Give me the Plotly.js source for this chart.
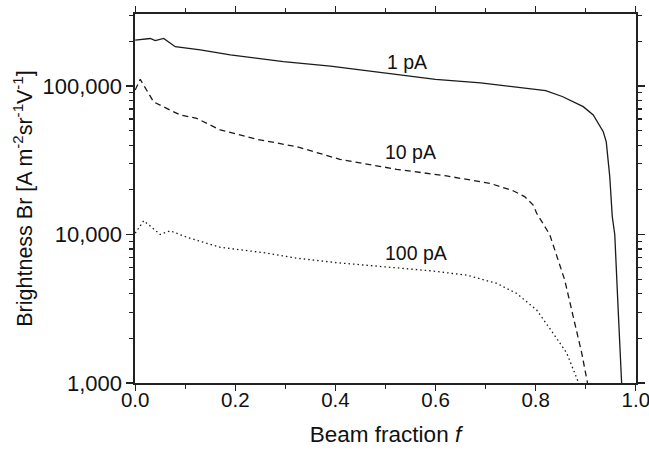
<!DOCTYPE html>
<html>
<head>
<meta charset="utf-8">
<script src="https://cdn.plot.ly/plotly-3.0.1.min.js"></script>
<style>html,body{margin:0;padding:0;background:#fff;}#chart{width:649px;height:453px;}</style>
</head>
<body>
<div id="chart"></div>
<script>
// Beam fraction (x) and brightness (y) for three beam currents
const x1pA = [0, 0.03, 0.04, 0.057, 0.08, 0.13, 0.19, 0.24, 0.296, 0.39, 0.49, 0.6, 0.69, 0.79, 0.82, 0.853, 0.88, 0.895, 0.915, 0.935, 0.941, 0.948, 0.953, 0.958, 0.965, 0.972];
const y1pA = [204000, 209000, 202000, 209000, 184000, 175000, 162000, 154000, 146000, 136000, 123000, 111000, 105000, 96000, 93000, 85000, 77000, 72600, 63800, 49200, 42100, 24500, 13200, 10000, 3000, 950];

const x10pA = [0, 0.01, 0.037, 0.09, 0.123, 0.17, 0.243, 0.323, 0.409, 0.522, 0.622, 0.709, 0.755, 0.778, 0.795, 0.802, 0.828, 0.858, 0.875, 0.892, 0.904];
const y10pA = [94000, 111000, 78000, 63800, 60500, 50600, 43800, 39000, 32100, 27500, 24800, 22100, 19700, 18000, 15800, 13900, 10000, 4940, 2800, 1590, 980];

const x100pA = [0, 0.017, 0.05, 0.07, 0.103, 0.17, 0.256, 0.323, 0.403, 0.496, 0.589, 0.662, 0.722, 0.762, 0.802, 0.835, 0.862, 0.882, 0.886];
const y100pA = [10200, 12400, 10000, 10600, 9580, 8200, 7550, 6920, 6460, 6070, 5700, 5330, 4690, 4010, 3100, 2160, 1590, 1080, 990];

const seriesLabels = ['1 pA', '10 pA', '100 pA'];
const yTickVals = [1000, 10000, 100000];
const yTickText = ['1,000', '10,000', '100,000'];
const yMinorVals = [2000,3000,4000,5000,6000,7000,8000,9000,20000,30000,40000,50000,60000,70000,80000,90000,200000,300000];
const xTickVals = [0, 0.2, 0.4, 0.6, 0.8, 1.0];
const xTickText = ['0.0', '0.2', '0.4', '0.6', '0.8', '1.0'];
const xMinorVals = [0.1, 0.3, 0.5, 0.7, 0.9];

const FONT = 'Liberation Sans, Arial, Helvetica, sans-serif';
const lineCol = '#1a1a1a';

const traces = [
  {x: x1pA, y: y1pA, mode: 'lines', name: seriesLabels[0], line: {color: lineCol, width: 1.3, dash: 'solid'}},
  {x: x10pA, y: y10pA, mode: 'lines', name: seriesLabels[1], line: {color: lineCol, width: 1.3, dash: '6px,4px'}},
  {x: x100pA, y: y100pA, mode: 'lines', name: seriesLabels[2], line: {color: lineCol, width: 1.3, dash: '1.5px,3px'}}
];

const layout = {
  width: 649, height: 453,
  margin: {l: 135, r: 13, t: 14, b: 70},
  paper_bgcolor: '#fff', plot_bgcolor: '#fff',
  showlegend: false,
  font: {family: FONT, size: 22, color: '#111'},
  xaxis: {
    range: [-0.0004, 1.0004], showgrid: false, zeroline: false,
    showline: true, linecolor: '#222', linewidth: 1.6, mirror: 'ticks',
    ticks: 'outside', ticklen: 6, tickwidth: 1.4, tickcolor: '#222',
    tickvals: xTickVals, ticktext: xTickText, ticklabeloverflow: 'allow', ticklabelstandoff: -8,
    minor: {tickvals: xMinorVals, ticks: 'outside', ticklen: 4, tickwidth: 1.2, tickcolor: '#222', showgrid: false},
    tickfont: {family: FONT, size: 20.5},
    title: {text: 'Beam fraction <i>f</i>', font: {family: FONT, size: 22.5}, standoff: 16}
  },
  yaxis: {
    type: 'log', range: [3, 5.485], showgrid: false, zeroline: false,
    showline: true, linecolor: '#222', linewidth: 1.6, mirror: 'ticks',
    ticks: 'outside', ticklen: 7, tickwidth: 1.4, tickcolor: '#222',
    tickvals: yTickVals, ticktext: yTickText, ticklabeloverflow: 'allow',
    minor: {tickvals: yMinorVals, ticks: 'outside', ticklen: 4, tickwidth: 1.2, tickcolor: '#222', showgrid: false},
    tickfont: {family: FONT, size: 22},
    title: {text: 'Brightness Br [A m<sup>-2</sup>sr<sup>-1</sup>V<sup>-1</sup>]', font: {family: FONT, size: 21.5}, standoff: 4}
  },
  annotations: [
    {x: 0.543, y: Math.log10(145000), xref: 'x', yref: 'y', text: seriesLabels[0], showarrow: false, font: {family: FONT, size: 19.5, color: '#111'}},
    {x: 0.55, y: Math.log10(36000), xref: 'x', yref: 'y', text: seriesLabels[1], showarrow: false, font: {family: FONT, size: 19.5, color: '#111'}},
    {x: 0.56, y: Math.log10(7450), xref: 'x', yref: 'y', text: seriesLabels[2], showarrow: false, font: {family: FONT, size: 19.5, color: '#111'}}
  ]
};

Plotly.newPlot('chart', traces, layout, {staticPlot: true, displayModeBar: false});
</script>
</body>
</html>
